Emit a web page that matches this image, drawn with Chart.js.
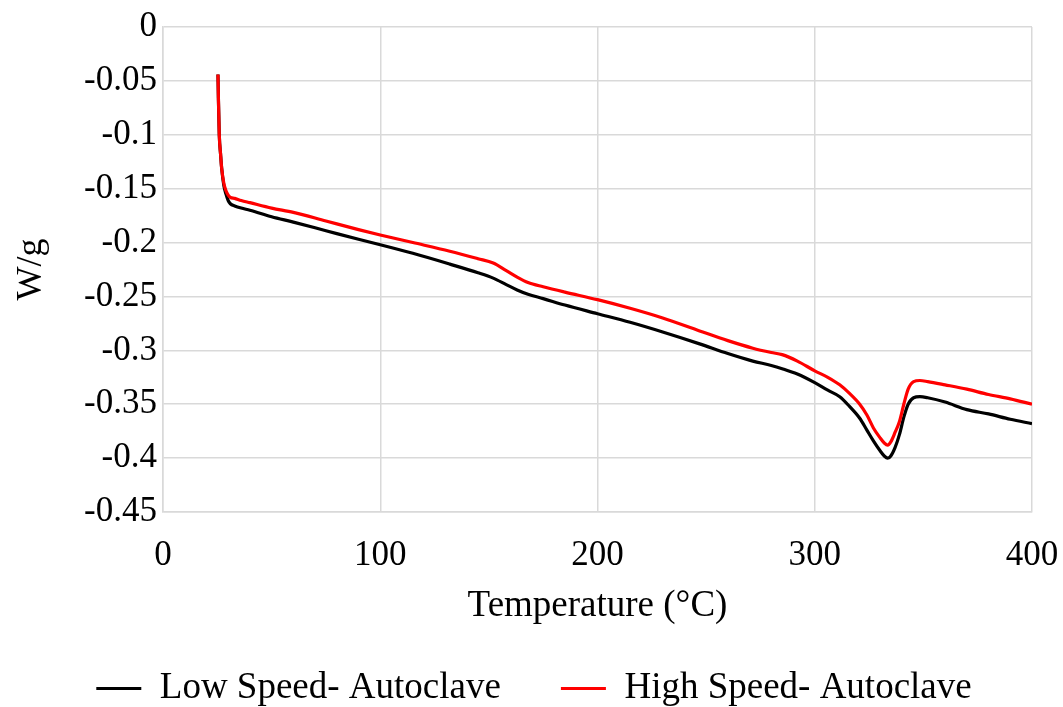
<!DOCTYPE html>
<html>
<head>
<meta charset="utf-8">
<script src="https://cdn.jsdelivr.net/npm/chart.js@4/dist/chart.umd.min.js"></script>
<style>
  html, body { margin: 0; padding: 0; background: #fff; }
  #wrap { width: 1063px; height: 707px; }
</style>
</head>
<body>
<div id="wrap"><canvas id="dsc" width="1063" height="707"></canvas></div>
<script>
// temperature (°C) sample points, shared by both curves
const temps = [25.3, 25.5, 25.9, 26.5, 27, 28, 29, 30, 31, 33, 36, 40, 50, 60, 75, 90, 100, 115, 132, 145,
  152, 158, 163, 168, 175, 185, 200, 215, 230, 247, 260, 271.5, 280, 285, 292, 300, 306, 311.5, 316, 320.7,
  324, 327, 330, 332, 333.6, 335, 337, 339, 341, 343, 345.5, 348.4, 352, 360, 370, 380, 390, 400];

// heat flow (W/g)
const lowSpeed = [-0.044, -0.066, -0.100, -0.118, -0.131, -0.147, -0.155, -0.161, -0.164, -0.166, -0.168, -0.170,
  -0.176, -0.181, -0.189, -0.197, -0.202, -0.210, -0.220, -0.228, -0.233, -0.239, -0.244, -0.248, -0.252, -0.258,
  -0.266, -0.274, -0.283, -0.294, -0.303, -0.310, -0.314, -0.317, -0.322, -0.330, -0.337, -0.343, -0.352, -0.363,
  -0.374, -0.384, -0.393, -0.398, -0.400, -0.398, -0.390, -0.378, -0.362, -0.350, -0.344, -0.343, -0.344, -0.348,
  -0.355, -0.359, -0.364, -0.368];

const highSpeed = [-0.044, -0.066, -0.100, -0.118, -0.131, -0.145, -0.152, -0.156, -0.158, -0.159, -0.161, -0.163,
  -0.168, -0.172, -0.180, -0.188, -0.193, -0.200, -0.208, -0.215, -0.219, -0.226, -0.232, -0.237, -0.241, -0.246,
  -0.253, -0.261, -0.270, -0.282, -0.291, -0.298, -0.302, -0.304, -0.310, -0.319, -0.325, -0.332, -0.340, -0.350,
  -0.360, -0.372, -0.381, -0.386, -0.388, -0.385, -0.376, -0.366, -0.350, -0.336, -0.329, -0.328, -0.329, -0.332,
  -0.336, -0.341, -0.345, -0.350];

const xTicks = [0, 100, 200, 300, 400];
const yMin = -0.45, yMax = 0, yStep = 0.05;

const toPoints = vals => temps.map((t, i) => ({ x: t, y: vals[i] }));
const serif = 'Liberation Serif';

// legend centring counts the trailing item padding, nudge it back to the middle
const legendNudge = {
  id: 'legendNudge',
  afterLayout(chart) {
    const lg = chart.legend;
    if (!lg) return;
    lg.left += 18;
    lg.right += 18;
  }
};

const ctx = document.getElementById('dsc').getContext('2d');
new Chart(ctx, {
  type: 'line',
  data: {
    datasets: [
      {
        label: 'High Speed- Autoclave',
        data: toPoints(highSpeed),
        borderColor: '#ff0000',
        backgroundColor: '#ff0000',
        borderWidth: 3.2,
        pointRadius: 0,
        pointStyle: 'line',
        cubicInterpolationMode: 'monotone'
      },
      {
        label: 'Low Speed- Autoclave',
        data: toPoints(lowSpeed),
        borderColor: '#000000',
        backgroundColor: '#000000',
        borderWidth: 3.2,
        pointRadius: 0,
        pointStyle: 'line',
        cubicInterpolationMode: 'monotone'
      }
    ]
  },
  options: {
    responsive: false,
    animation: false,
    layout: { padding: { left: 0, right: 31, top: 25, bottom: -10 } },
    plugins: {
      tooltip: { enabled: false },
      legend: {
        position: 'bottom',
        reverse: true,
        labels: {
          usePointStyle: true,
          pointStyleWidth: 45,
          padding: 60,
          color: '#000',
          font: { family: serif, size: 37 }
        }
      }
    },
    scales: {
      x: {
        type: 'linear',
        min: xTicks[0],
        max: xTicks[xTicks.length - 1],
        afterBuildTicks: s => { s.ticks = xTicks.map(v => ({ value: v })); },
        afterFit: s => {
          s.height = 98;
          // keep the tick padding from widening the side margins
          s.paddingLeft = 0;
          s.paddingRight = 0;
        },
        grid: { color: '#d9d9d9', lineWidth: 1.5, drawTicks: false },
        border: { color: '#d9d9d9', width: 1.5 },
        ticks: { color: '#000', padding: 23, maxRotation: 0, font: { family: serif, size: 35 } },
        title: {
          display: true,
          text: 'Temperature (°C)',
          color: '#000',
          font: { family: serif, size: 37 },
          padding: { top: 0, bottom: -18 }
        }
      },
      y: {
        min: yMin,
        max: yMax,
        afterFit: s => { s.width = 163; },
        grid: { color: '#d9d9d9', lineWidth: 1.5, drawTicks: false },
        border: { color: '#d9d9d9', width: 1.5 },
        ticks: {
          stepSize: yStep,
          color: '#000',
          padding: 6,
          font: { family: serif, size: 35 },
          callback: v => String(parseFloat(v.toFixed(2)))
        },
        title: {
          display: true,
          text: 'W/g',
          color: '#000',
          font: { family: serif, size: 36 },
          padding: { top: 10, bottom: 0 }
        }
      }
    }
  },
  plugins: [legendNudge]
});
</script>
</body>
</html>
